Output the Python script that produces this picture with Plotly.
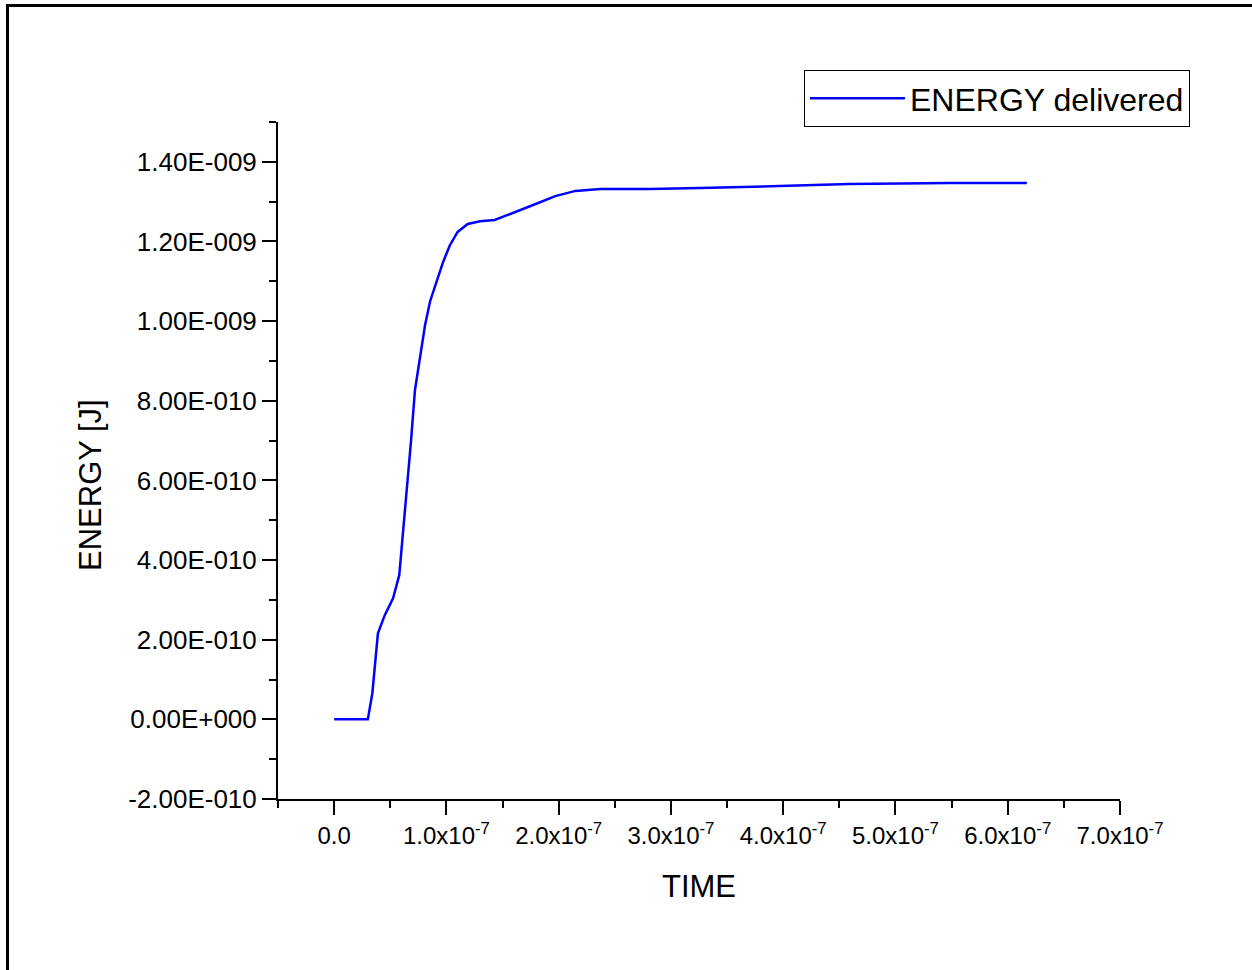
import plotly.graph_objects as go

# Data
time_s = [0.0, 0.30e-7, 0.34e-7, 0.365e-7, 0.39e-7, 0.45e-7, 0.525e-7, 0.58e-7, 0.615e-7,
          0.65e-7, 0.685e-7, 0.72e-7, 0.765e-7, 0.81e-7, 0.855e-7, 0.92e-7, 0.97e-7,
          1.03e-7, 1.10e-7, 1.19e-7, 1.30e-7, 1.43e-7, 1.57e-7, 1.75e-7, 1.97e-7,
          2.15e-7, 2.37e-7, 2.81e-7, 3.26e-7, 3.97e-7, 4.59e-7, 5.49e-7, 6.17e-7]
energy_j = [0.0, 0.0, 0.65e-10, 1.48e-10, 2.16e-10, 2.61e-10, 3.04e-10, 3.62e-10, 4.75e-10,
            5.75e-10, 7.0e-10, 8.27e-10, 9.15e-10, 9.9e-10, 10.5e-10, 11.08e-10, 11.48e-10,
            11.9e-10, 12.24e-10, 12.44e-10, 12.51e-10, 12.54e-10, 12.69e-10, 12.89e-10, 13.14e-10,
            13.27e-10, 13.32e-10, 13.32e-10, 13.34e-10, 13.39e-10, 13.44e-10, 13.47e-10, 13.47e-10]

y_tick_vals = [-2e-10, 0, 2e-10, 4e-10, 6e-10, 8e-10, 1.0e-9, 1.2e-9, 1.4e-9]
y_tick_text = ["-2.00E-010", "0.00E+000", "2.00E-010", "4.00E-010", "6.00E-010",
               "8.00E-010", "1.00E-009", "1.20E-009", "1.40E-009"]
x_tick_vals = [0, 1e-7, 2e-7, 3e-7, 4e-7, 5e-7, 6e-7, 7e-7]
x_tick_text = ["0.0"] + [f"{i}.0x10<sup>-7</sup>" for i in range(1, 8)]

FONT = "Liberation Sans, Arial, sans-serif"
W, H = 1252, 970
L, R, T, B = 278, 132, 122, 171
pw, ph = W - L - R, H - T - B

def px(x):
    return (x - L) / pw

def py(y):
    return (H - B - y) / ph

fig = go.Figure()
fig.add_trace(go.Scatter(x=time_s, y=energy_j, mode="lines", name="ENERGY delivered",
                         line=dict(color="#0000FF", width=2.5)))

axis_common = dict(showline=True, linecolor="black", linewidth=2, showgrid=False,
                   zeroline=False, ticks="outside", tickcolor="black", tickwidth=2,
                   ticklen=14)

fig.update_xaxes(range=[-0.5e-7, 7e-7], tickmode="array", tickvals=x_tick_vals,
                 ticktext=x_tick_text,
                 tickfont=dict(family=FONT, size=24, color="black"),
                 minor=dict(ticks="outside", ticklen=7, tickwidth=2, tickcolor="black",
                            dtick=0.5e-7, tick0=0, showgrid=False),
                 title=dict(text="TIME", font=dict(family=FONT, size=31, color="black"),
                            standoff=28),
                 **axis_common)
fig.update_yaxes(range=[-2e-10, 1.5e-9], tickmode="array", tickvals=y_tick_vals,
                 ticktext=y_tick_text,
                 tickfont=dict(family=FONT, size=26, color="black"),
                 minor=dict(ticks="outside", ticklen=7, tickwidth=2, tickcolor="black",
                            dtick=1e-10, tick0=0, showgrid=False),
                 **axis_common)

fig.add_annotation(text="ENERGY [J]", textangle=-90, xref="paper", yref="paper",
                   x=px(90), y=py(485), xanchor="center", yanchor="middle", showarrow=False,
                   font=dict(family=FONT, size=31, color="black"))

# outer frame (top and left visible)
fig.add_shape(type="rect", xref="paper", yref="paper",
              x0=px(7.5), x1=px(1300), y0=py(5.5), y1=py(1020),
              line=dict(color="black", width=3), fillcolor="rgba(0,0,0,0)", layer="above")

fig.update_layout(
    width=W, height=H,
    margin=dict(l=L, r=R, t=T, b=B),
    paper_bgcolor="white", plot_bgcolor="white",
    showlegend=True,
    legend=dict(x=px(1190), y=py(70), xanchor="right", yanchor="top",
                bgcolor="white", bordercolor="black", borderwidth=1,
                font=dict(family=FONT, size=32, color="black"),
                itemwidth=95, tracegroupgap=0),
)

fig.write_html("out.html")
